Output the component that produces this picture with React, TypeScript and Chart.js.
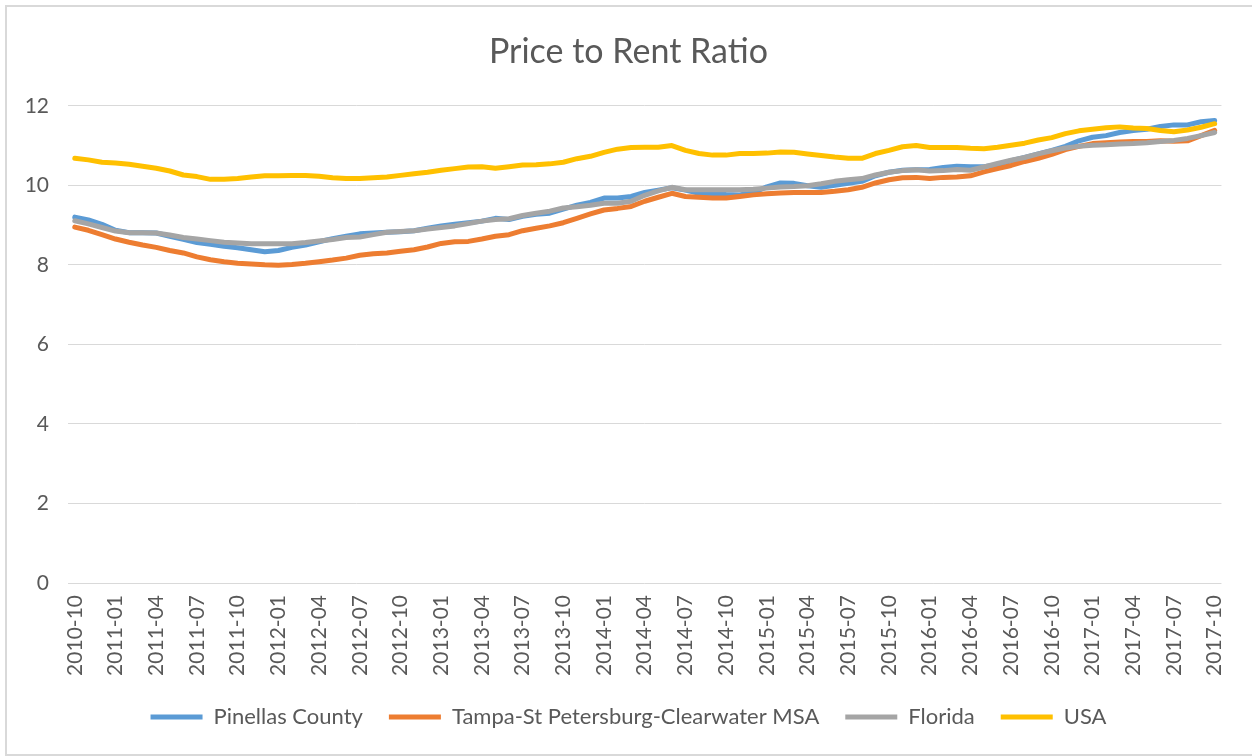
import React, { useEffect, useRef } from "react";
import { Chart, registerables } from "chart.js";

Chart.register(...registerables);

const months = [
  "2010-10", "2010-11", "2010-12",
  "2011-01", "2011-02", "2011-03", "2011-04", "2011-05", "2011-06", "2011-07", "2011-08", "2011-09", "2011-10", "2011-11", "2011-12",
  "2012-01", "2012-02", "2012-03", "2012-04", "2012-05", "2012-06", "2012-07", "2012-08", "2012-09", "2012-10", "2012-11", "2012-12",
  "2013-01", "2013-02", "2013-03", "2013-04", "2013-05", "2013-06", "2013-07", "2013-08", "2013-09", "2013-10", "2013-11", "2013-12",
  "2014-01", "2014-02", "2014-03", "2014-04", "2014-05", "2014-06", "2014-07", "2014-08", "2014-09", "2014-10", "2014-11", "2014-12",
  "2015-01", "2015-02", "2015-03", "2015-04", "2015-05", "2015-06", "2015-07", "2015-08", "2015-09", "2015-10", "2015-11", "2015-12",
  "2016-01", "2016-02", "2016-03", "2016-04", "2016-05", "2016-06", "2016-07", "2016-08", "2016-09", "2016-10", "2016-11", "2016-12",
  "2017-01", "2017-02", "2017-03", "2017-04", "2017-05", "2017-06", "2017-07", "2017-08", "2017-09", "2017-10",
];

const pinellas = [
  9.20, 9.13, 9.02, 8.87, 8.81, 8.81, 8.80, 8.72, 8.64, 8.56,
  8.52, 8.47, 8.43, 8.38, 8.33, 8.36, 8.44, 8.50, 8.58, 8.66,
  8.72, 8.78, 8.80, 8.82, 8.83, 8.86, 8.92, 8.98, 9.02, 9.06,
  9.10, 9.17, 9.14, 9.22, 9.27, 9.30, 9.40, 9.50, 9.57, 9.68,
  9.68, 9.72, 9.82, 9.88, 9.94, 9.88, 9.80, 9.79, 9.77, 9.76,
  9.82, 9.96, 10.06, 10.05, 9.99, 9.95, 10.00, 10.05, 10.10, 10.24,
  10.33, 10.38, 10.39, 10.40, 10.45, 10.48, 10.47, 10.47, 10.52, 10.62,
  10.70, 10.79, 10.88, 10.98, 11.12, 11.21, 11.25, 11.33, 11.38, 11.41,
  11.48, 11.52, 11.52, 11.60, 11.63,
];

const tampaMsa = [
  8.95, 8.87, 8.76, 8.65, 8.57, 8.50, 8.44, 8.36, 8.30, 8.20,
  8.13, 8.08, 8.04, 8.02, 8.00, 7.99, 8.01, 8.04, 8.08, 8.12,
  8.17, 8.24, 8.28, 8.30, 8.34, 8.38, 8.45, 8.54, 8.58, 8.59,
  8.65, 8.72, 8.76, 8.86, 8.92, 8.98, 9.06, 9.17, 9.28, 9.38,
  9.42, 9.47, 9.60, 9.70, 9.80, 9.72, 9.70, 9.68, 9.68, 9.72,
  9.76, 9.79, 9.81, 9.82, 9.82, 9.82, 9.85, 9.89, 9.95, 10.06,
  10.14, 10.19, 10.20, 10.17, 10.20, 10.21, 10.24, 10.34, 10.42, 10.50,
  10.60, 10.68, 10.78, 10.90, 10.98, 11.05, 11.07, 11.09, 11.10, 11.10,
  11.12, 11.11, 11.12, 11.25, 11.38,
];

const florida = [
  9.11, 9.03, 8.94, 8.85, 8.81, 8.81, 8.80, 8.75, 8.69, 8.65,
  8.61, 8.57, 8.55, 8.53, 8.53, 8.53, 8.53, 8.56, 8.60, 8.64,
  8.69, 8.70, 8.76, 8.82, 8.84, 8.86, 8.90, 8.94, 8.98, 9.04,
  9.10, 9.14, 9.16, 9.24, 9.30, 9.35, 9.43, 9.46, 9.50, 9.55,
  9.55, 9.60, 9.75, 9.86, 9.95, 9.89, 9.89, 9.89, 9.89, 9.89,
  9.90, 9.93, 9.96, 9.97, 9.99, 10.04, 10.10, 10.14, 10.17, 10.26,
  10.33, 10.37, 10.39, 10.36, 10.37, 10.40, 10.38, 10.46, 10.55, 10.63,
  10.70, 10.79, 10.87, 10.94, 10.98, 11.01, 11.02, 11.04, 11.05, 11.07,
  11.10, 11.13, 11.18, 11.25, 11.33,
];

const usa = [
  10.68, 10.64, 10.58, 10.56, 10.53, 10.48, 10.43, 10.36, 10.26, 10.22,
  10.15, 10.15, 10.17, 10.21, 10.24, 10.24, 10.25, 10.25, 10.23, 10.19,
  10.17, 10.17, 10.19, 10.21, 10.25, 10.29, 10.33, 10.38, 10.42, 10.46,
  10.47, 10.43, 10.47, 10.51, 10.52, 10.54, 10.58, 10.67, 10.73, 10.83,
  10.91, 10.95, 10.96, 10.96, 11.00, 10.88, 10.80, 10.76, 10.76, 10.80,
  10.80, 10.81, 10.84, 10.83, 10.79, 10.75, 10.71, 10.68, 10.68, 10.80,
  10.88, 10.97, 11.00, 10.95, 10.95, 10.95, 10.93, 10.92, 10.96, 11.01,
  11.06, 11.14, 11.20, 11.30, 11.37, 11.41, 11.45, 11.47, 11.44, 11.43,
  11.38, 11.35, 11.39, 11.46, 11.55,
];

const seriesNames = ["Pinellas County", "Tampa-St Petersburg-Clearwater MSA", "Florida", "USA"];
const seriesColors = ["#5B9BD5", "#ED7D31", "#A5A5A5", "#FFC000"];
const yMin = 0;
const yMax = 12;
const yStep = 2;
const labelEvery = 3;

const textColor = "#595959";
const fontFamily = "Lato, Carlito, 'Open Sans', sans-serif";

export default function App() {
  const canvasRef = useRef<HTMLCanvasElement>(null);

  useEffect(() => {
    document.body.style.margin = "0";
    const series = [pinellas, tampaMsa, florida, usa];
    const chart = new Chart(canvasRef.current as HTMLCanvasElement, {
      type: "line",
      data: {
        labels: months,
        datasets: series.map((d, i) => ({
          label: seriesNames[i],
          data: d,
          borderColor: seriesColors[i],
          backgroundColor: seriesColors[i],
          borderWidth: 5,
          pointRadius: 0,
          pointHoverRadius: 0,
          tension: 0,
          borderCapStyle: "round",
          borderJoinStyle: "round",
          fill: false,
          yAxisID: "y",
          order: series.length - i,
        })),
      },
      options: {
        animation: false,
        responsive: false,
        maintainAspectRatio: false,
        events: [],
        layout: { padding: { left: 5, right: 0, top: 0, bottom: 18 } },
        plugins: {
          title: {
            display: true,
            text: "Price to Rent Ratio",
            color: textColor,
            font: { family: fontFamily, size: 34, weight: "normal" },
            padding: { top: 32, bottom: 33 },
          },
          legend: {
            position: "bottom",
            labels: {
              usePointStyle: true,
              pointStyle: "line",
              pointStyleWidth: 52,
              color: textColor,
              font: { family: fontFamily, size: 22 },
              padding: 26,
              sort: (a: any, b: any) => a.datasetIndex - b.datasetIndex,
            },
          },
          tooltip: { enabled: false },
        },
        scales: {
          x: {
            offset: true,
            grid: { display: false, drawTicks: false },
            border: { display: false },
            ticks: {
              autoSkip: false,
              minRotation: 90,
              maxRotation: 90,
              padding: 12,
              color: textColor,
              font: { family: fontFamily, size: 21 },
              callback: (_v: any, i: number) => (i % labelEvery === 0 ? months[i] : ""),
            },
            afterFit: (s: any) => {
              s.height = 97;
            },
          },
          y: {
            min: yMin,
            max: yMax,
            ticks: {
              stepSize: yStep,
              padding: 19,
              color: textColor,
              font: { family: fontFamily, size: 21 },
            },
            grid: { color: "#D9D9D9", lineWidth: 1, drawTicks: false },
            border: { display: false },
            afterFit: (s: any) => {
              s.width = 63;
            },
          },
          yRight: {
            position: "right",
            min: yMin,
            max: yMax,
            grid: { display: false, drawTicks: false },
            border: { display: false },
            ticks: { display: false },
            afterFit: (s: any) => {
              s.width = 25;
            },
          },
        },
      },
    } as any);
    return () => chart.destroy();
  }, []);

  return (
    <div style={{ position: "relative", width: 1252, height: 756, overflow: "hidden", background: "#ffffff" }}>
      <div
        style={{
          position: "absolute",
          left: 5,
          top: 5,
          width: 1270,
          height: 751,
          border: "2px solid #D9D9D9",
          boxSizing: "border-box",
        }}
      />
      <canvas ref={canvasRef} width={1252} height={756} style={{ position: "absolute", left: 0, top: 0 }} />
    </div>
  );
}
